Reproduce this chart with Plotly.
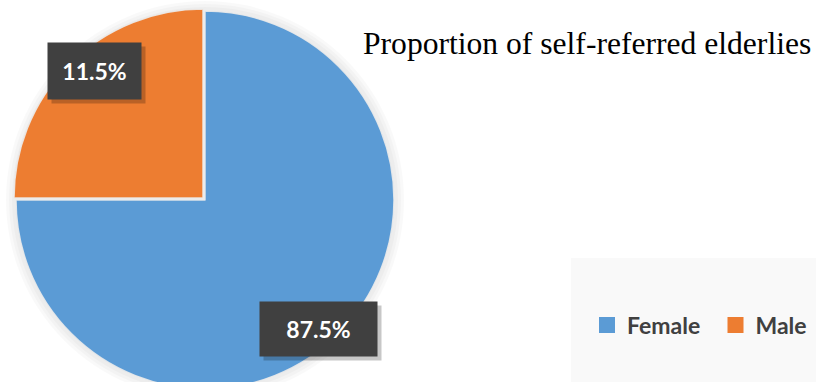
import plotly.graph_objects as go

# Data
categories = ["Female", "Male"]
slice_shares = [75, 25]          # slice sizes as drawn in the picture
label_texts = ["87.5%", "11.5%"]  # data labels as printed on the chart
colors = ["#5B9BD5", "#ED7D31"]
title_text = "Proportion of self-referred elderlies"

W, H = 816, 400
CX, CY, R = 205, 200, 189  # pie centre / radius in px (layout)

fig = go.Figure()

# soft shadow halo behind the pie
for k in (10, 7, 4):
    fig.add_trace(go.Pie(
        labels=["shadow"], values=[1], sort=False, textinfo="none", hoverinfo="skip",
        marker=dict(colors=["rgba(0,0,0,0.025)"], line=dict(width=0)),
        domain=dict(x=[(CX - R - k) / W, (CX + R + k) / W],
                    y=[(H - CY - R - k) / H, (H - CY + R + k) / H]),
        showlegend=False))

rr = R * 1.015
fig.add_trace(go.Pie(
    labels=categories,
    values=slice_shares,
    sort=False,
    direction="clockwise",
    rotation=0,
    pull=[0, 0.015],
    marker=dict(colors=colors, line=dict(color="rgba(235,235,235,0.9)", width=1.5)),
    textinfo="none",
    hoverinfo="label+percent",
    domain=dict(x=[(CX - rr) / W, (CX + rr) / W], y=[(H - CY - rr) / H, (H - CY + rr) / H]),
    showlegend=False,
))

# legend entries (square markers matching slice colours), one legend per entry
legend_x = [587, 715.5]
for i, (name, col) in enumerate(zip(categories, colors)):
    fig.add_trace(go.Scatter(x=[None], y=[None], mode="markers", name=name,
                             marker=dict(symbol="square", size=16, color=col),
                             showlegend=True, hoverinfo="skip",
                             legend="legend" if i == 0 else f"legend{i + 1}"))

fig.update_xaxes(visible=False)
fig.update_yaxes(visible=False)

# legend background panel
fig.add_shape(type="rect", xref="paper", yref="paper",
              x0=571 / W, x1=1.0, y0=0, y1=(H - 258) / H,
              fillcolor="#f9f9f9", line=dict(width=0), layer="below")

# data label boxes (shadow + box)
label_pos = [(318.5, 329, 117, 54), (94.5, 71, 93, 56)]
for txt, (cx, cy, bw, bh) in zip(label_texts, label_pos):
    fig.add_annotation(x=(cx + 4) / W, y=(H - cy - 4) / H, xref="paper", yref="paper",
                       text=" ", showarrow=False, width=bw, height=bh, borderpad=0,
                       bgcolor="rgba(0,0,0,0.22)", xanchor="center", yanchor="middle")
    fig.add_annotation(x=cx / W, y=(H - cy) / H, xref="paper", yref="paper",
                       text=txt, showarrow=False, width=bw, height=bh, borderpad=0,
                       bgcolor="#404040", xanchor="center", yanchor="middle",
                       font=dict(family="Lato", size=23, color="white", weight="bold"))

fig.add_annotation(x=361 / W, y=(H - 44) / H, xref="paper", yref="paper",
                   text=title_text, showarrow=False, xanchor="left", yanchor="middle",
                   font=dict(family="Liberation Serif", size=31.6, color="black"))

legend_style = dict(orientation="h", y=(H - 325) / H, xanchor="left", yanchor="middle",
                    bgcolor="rgba(0,0,0,0)", itemwidth=30,
                    font=dict(family="Lato", size=23, color="#404040", weight="bold"))
fig.update_layout(
    width=W, height=H,
    margin=dict(l=0, r=0, t=0, b=0),
    paper_bgcolor="white",
    plot_bgcolor="white",
    legend=dict(x=legend_x[0] / W, **legend_style),
    legend2=dict(x=legend_x[1] / W, **legend_style),
)

fig.write_html("out.html", config={"displayModeBar": False}, post_script=(
    "document.body.style.margin='0';"
    "document.body.style.overflow='hidden';"
    "document.documentElement.style.overflow='hidden';"))
